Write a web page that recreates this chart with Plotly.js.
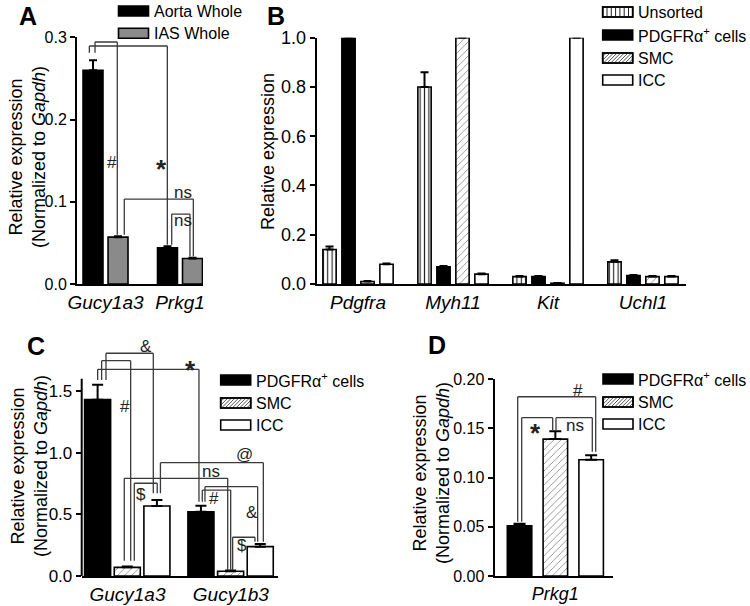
<!DOCTYPE html>
<html><head><meta charset="utf-8">
<script src="https://cdn.plot.ly/plotly-3.0.1.min.js"></script>
<style>html,body{margin:0;padding:0;background:#fff}#chart{width:750px;height:606px}</style>
</head><body><div id="chart"></div>
<script>
// ---------------- DATA ----------------
// Panel A
const catsA = ['Gucy1a3', 'Prkg1'];
const aortaA = [0.26, 0.044];
const aortaErrA = [0.012, 0.002];
const iasA = [0.057, 0.031];
const iasErrA = [0.001, 0.001];
const ticksA = [0, 0.1, 0.2, 0.3];

// Panel B
const catsB = ['Pdgfra', 'Myh11', 'Kit', 'Uchl1'];
const unsortedB = [0.14, 0.80, 0.03, 0.09];
const unsortedErrB = [0.012, 0.06, 0.002, 0.006];
const pdgfrB = [1.0, 0.07, 0.03, 0.034];
const pdgfrErrB = [0, 0.003, 0.002, 0.003];
const smcB = [0.01, 1.0, 0.003, 0.03];
const smcErrB = [0.002, 0, 0.001, 0.002];
const iccB = [0.08, 0.04, 1.0, 0.03];
const iccErrB = [0.003, 0.003, 0, 0.002];
const ticksB = [0, 0.2, 0.4, 0.6, 0.8, 1.0];

// Panel C
const catsC = ['Gucy1a3', 'Gucy1b3'];
const pdgfrC = [1.43, 0.52];
const pdgfrErrC = [0.12, 0.05];
const smcC = [0.07, 0.038];
const smcErrC = [0.008, 0.006];
const iccC = [0.567, 0.238];
const iccErrC = [0.049, 0.021];
const ticksC = [0, 0.5, 1.0, 1.5];

// Panel D
const catsD = ['Prkg1'];
const pdgfrD = [0.051];
const pdgfrErrD = [0.002];
const smcD = [0.139];
const smcErrD = [0.008];
const iccD = [0.118];
const iccErrD = [0.0045];
const ticksD = [0, 0.05, 0.10, 0.15, 0.20];

// Significance labels
const sigA = ['#', '*', 'ns', 'ns'];
const sigC = ['*', '#', '&', '$', 'ns', '@', '#', '&', '$'];
const sigD = ['#', '*', 'ns'];

// Legend labels
const legendA = ['Aorta Whole', 'IAS Whole'];
const legendB = ['Unsorted', 'PDGFR\u03b1<sup>+</sup> cells', 'SMC', 'ICC'];
const legendCD = ['PDGFR\u03b1<sup>+</sup> cells', 'SMC', 'ICC'];

// ---------------- STYLE / LAYOUT HELPERS ----------------
const W = 750, H = 606;
const FONT = 'Arial, "Liberation Sans", Helvetica, sans-serif';
const px = p => p / W;
const py = p => 1 - p / H;

const STY = {
  black: {color: '#000000'},
  gray: {color: '#8a8a8a'},
  white: {color: '#ffffff'},
  vlines: {color: '#ffffff', pattern: {shape: '|', fgcolor: '#222', bgcolor: '#fff', size: 4.4, solidity: 0.26}},
  diag: {color: '#ffffff', pattern: {shape: '/', fgcolor: '#555', bgcolor: '#fff', size: 5, solidity: 0.12}}
};

function bar(cats, vals, errs, sty, xa, ya, offset, width, capw, name) {
  const marker = {color: sty.color, line: {color: '#000', width: 1.6}};
  if (sty.pattern) marker.pattern = sty.pattern;
  return {
    type: 'bar', name: name, x: cats, y: vals, xaxis: xa, yaxis: ya,
    offset: offset, width: width, marker: marker, showlegend: false,
    error_y: {type: 'data', symmetric: false, array: errs, arrayminus: errs.map(() => 0),
              color: '#000', thickness: 2, width: capw},
    hoverinfo: 'skip'
  };
}

const traces = [
  bar(catsA, aortaA, aortaErrA, STY.black, 'x', 'y', -0.302, 0.268, 4, legendA[0]),
  bar(catsA, iasA, iasErrA, STY.gray, 'x', 'y', 0.034, 0.268, 4, legendA[1]),

  bar(catsB, unsortedB, unsortedErrB, STY.vlines, 'x2', 'y2', -0.37, 0.14, 4, 'Unsorted'),
  bar(catsB, pdgfrB, pdgfrErrB, STY.black, 'x2', 'y2', -0.17, 0.14, 4, 'PDGFRa'),
  bar(catsB, smcB, smcErrB, STY.diag, 'x2', 'y2', 0.03, 0.14, 4, 'SMC'),
  bar(catsB, iccB, iccErrB, STY.white, 'x2', 'y2', 0.23, 0.14, 4, 'ICC'),

  bar(catsC, pdgfrC, pdgfrErrC, STY.black, 'x3', 'y3', -0.415, 0.252, 5.5, 'PDGFRa'),
  bar(catsC, smcC, smcErrC, STY.diag, 'x3', 'y3', -0.128, 0.252, 5.5, 'SMC'),
  bar(catsC, iccC, iccErrC, STY.white, 'x3', 'y3', 0.159, 0.252, 5.5, 'ICC'),

  bar(catsD, pdgfrD, pdgfrErrD, STY.black, 'x4', 'y4', -0.48, 0.245, 6, 'PDGFRa'),
  bar(catsD, smcD, smcErrD, STY.diag, 'x4', 'y4', -0.122, 0.245, 6, 'SMC'),
  bar(catsD, iccD, iccErrD, STY.white, 'x4', 'y4', 0.236, 0.245, 6, 'ICC')
];

function xax(domain, range, anchor, cats, fs) {
  return {
    type: 'category', domain: domain, range: range, anchor: anchor,
    categoryorder: 'array', categoryarray: cats,
    showline: true, linewidth: 2, linecolor: '#000', ticks: '',
    showgrid: false, zeroline: false, fixedrange: true,
    tickfont: {family: FONT, size: fs, color: '#000', style: 'italic'}
  };
}
function yax(domain, range, anchor, tv, fmt, fs, showline) {
  return {
    domain: domain, range: range, anchor: anchor,
    tickmode: 'array', tickvals: tv, ticktext: tv.map(v => v.toFixed(fmt)),
    ticks: 'outside', ticklen: 5, tickwidth: 2, tickcolor: '#000',
    showline: showline, linewidth: 2, linecolor: '#000',
    showgrid: false, zeroline: false, fixedrange: true,
    tickfont: {family: FONT, size: fs, color: '#000'}
  };
}

const layout = {
  width: W, height: H, margin: {l: 0, r: 0, t: 0, b: 0},
  paper_bgcolor: '#fff', plot_bgcolor: 'rgba(0,0,0,0)',
  font: {family: FONT, color: '#000'},
  showlegend: false, barmode: 'group',
  xaxis: xax([px(77), px(203)], [-0.383, 1.309], 'y', catsA, 19),
  yaxis: yax([py(284), py(37.3)], [0, 0.3], 'x', ticksA, 1, 16, true),
  xaxis2: xax([px(316.7), px(686)], [-0.435, 3.453], 'y2', catsB, 19),
  yaxis2: yax([py(284), py(37.7)], [0, 1.0], 'x2', ticksB, 1, 18, true),
  xaxis3: xax([px(81.7), px(277.5)], [-0.443, 1.452], 'y3', catsC, 19),
  yaxis3: yax([py(576), py(335.5)], [0, 1.95], 'x3', ticksC, 1, 17, false),
  xaxis4: xax([px(494.5), px(613)], [-0.608, 0.577], 'y4', catsD, 18),
  yaxis4: yax([py(576), py(379)], [0, 0.2], 'x4', ticksD, 2, 16, true),
  shapes: [],
  annotations: []
};

// y axis line of panel C stops at 1.6
layout.shapes.push({type: 'line', xref: 'x3 domain', yref: 'y3', x0: 0, x1: 0, y0: 0, y1: 1.6,
                    line: {color: '#000', width: 2}});

// ---------------- SIGNIFICANCE BRACKETS ----------------
const BR_COLOR = '#3a3a3a';
function bracket(xa, ya, b) {
  const base = {type: 'line', xref: xa, yref: ya, line: {color: BR_COLOR, width: 1.3}, layer: 'above'};
  layout.shapes.push(Object.assign({}, base, {x0: b.x0, x1: b.x0, y0: b.y0, y1: b.yt}));
  layout.shapes.push(Object.assign({}, base, {x0: b.x0, x1: b.x1, y0: b.yt, y1: b.yt}));
  layout.shapes.push(Object.assign({}, base, {x0: b.x1, x1: b.x1, y0: b.yt, y1: b.y1}));
}
function sigLabel(xa, ya, x, y, text) {
  const star = text === '*';
  layout.annotations.push({
    xref: xa, yref: ya, x: x, y: y, text: text, showarrow: false,
    xanchor: 'center', yanchor: 'middle', yshift: star ? -6 : 0,
    font: {family: FONT, size: star ? 26 : 17, color: '#222', weight: star ? 'bold' : 'normal'}
  });
}

// Panel A brackets (category units, value units)
const brA = [
  {x0: -0.141, x1: 0.158, yt: 0.2943, y0: 0.2813, y1: 0.0598, lx: 0.087, ly: 0.1476},
  {x0: -0.217, x1: 0.830, yt: 0.2894, y0: 0.2813, y1: 0.0476, lx: 0.745, ly: 0.1476},
  {x0: 0.252, x1: 1.179, yt: 0.1033, y0: 0.0598, y1: 0.0333, lx: 1.040, ly: 0.111},
  {x0: 0.889, x1: 1.134, yt: 0.085, y0: 0.0476, y1: 0.0333, lx: 1.040, ly: 0.0768}
];
brA.forEach((b, i) => { bracket('x', 'y', b); sigLabel('x', 'y', b.lx, b.ly, sigA[i]); });

const brC = [
  {x0: -0.2885, x1: 0.692, yt: 1.676, y0: 1.589, y1: 0.602, lx: 0.613, ly: 1.718},
  {x0: -0.250, x1: 0.031, yt: 1.746, y0: 1.589, y1: 0.124, lx: -0.024, ly: 1.373},
  {x0: -0.208, x1: 0.250, yt: 1.806, y0: 1.589, y1: 0.671, lx: 0.184, ly: 1.859},
  {x0: 0.066, x1: 0.288, yt: 0.752, y0: 0.124, y1: 0.671, lx: 0.128, ly: 0.657},
  {x0: -0.031, x1: 0.970, yt: 0.792, y0: 0.124, y1: 0.0487, lx: 0.808, ly: 0.851},
  {x0: 0.319, x1: 1.315, yt: 0.919, y0: 0.671, y1: 0.278, lx: 1.128, ly: 0.989},
  {x0: 0.724, x1: 0.999, yt: 0.697, y0: 0.602, y1: 0.0487, lx: 0.840, ly: 0.630},
  {x0: 0.750, x1: 1.260, yt: 0.724, y0: 0.602, y1: 0.278, lx: 1.202, ly: 0.513},
  {x0: 1.018, x1: 1.234, yt: 0.314, y0: 0.0487, y1: 0.278, lx: 1.105, ly: 0.246}
];
brC.forEach((b, i) => { bracket('x3', 'y3', b); sigLabel('x3', 'y3', b.lx, b.ly, sigC[i]); });

const brD = [
  {x0: -0.376, x1: 0.404, yt: 0.182, y0: 0.0551, y1: 0.1262, lx: 0.23, ly: 0.188},
  {x0: -0.336, x1: -0.026, yt: 0.1607, y0: 0.0551, y1: 0.148, lx: -0.196, ly: 0.151},
  {x0: 0.007, x1: 0.370, yt: 0.1607, y0: 0.148, y1: 0.1262, lx: 0.197, ly: 0.153}
];
brD.forEach((b, i) => { bracket('x4', 'y4', b); sigLabel('x4', 'y4', b.lx, b.ly, sigD[i]); });

// ---------------- LEGENDS (drawn swatches) ----------------
function swatch(x0, yc, kind, label, fs) {
  const x1 = x0 + 30, yt = yc - 5, yb = yc + 5;
  const fill = kind === 'black' ? '#000' : (kind === 'gray' ? '#8a8a8a' : '#fff');
  layout.shapes.push({type: 'rect', xref: 'paper', yref: 'paper', x0: px(x0), x1: px(x1), y0: py(yb), y1: py(yt),
                      fillcolor: fill, line: {color: '#000', width: 1.6}});
  let path = '';
  if (kind === 'vlines') {
    for (let x = x0 + 4.3; x < x1 - 1; x += 4.3) {
      path += 'M' + px(x) + ',' + py(yt) + 'L' + px(x) + ',' + py(yb);
    }
  } else if (kind === 'diag') {
    const h = yb - yt;
    for (let xb = x0 - h; xb < x1; xb += 3.6) {
      const ta = Math.max(xb, x0), tb = Math.min(xb + h, x1);
      if (tb - ta > 0.3) {
        path += 'M' + px(ta) + ',' + py(yb - (ta - xb)) + 'L' + px(tb) + ',' + py(yb - (tb - xb));
      }
    }
  }
  if (path) {
    layout.shapes.push({type: 'path', xref: 'paper', yref: 'paper', path: path,
                        line: {color: kind === 'diag' ? '#555' : '#222', width: 1}});
    layout.shapes.push({type: 'rect', xref: 'paper', yref: 'paper', x0: px(x0), x1: px(x1), y0: py(yb), y1: py(yt),
                        fillcolor: 'rgba(0,0,0,0)', line: {color: '#000', width: 1.6}});
  }
  layout.annotations.push({xref: 'paper', yref: 'paper', x: px(x1 + 3), y: py(yc), text: label,
                           showarrow: false, xanchor: 'left', yanchor: 'middle',
                           font: {family: FONT, size: fs, color: '#000'}});
}
const kindsA = ['black', 'gray'];
const kindsB = ['vlines', 'black', 'diag', 'white'];
const kindsCD = ['black', 'diag', 'white'];
[11, 33.3].forEach((y, i) => swatch(118.5, y, kindsA[i], legendA[i], 16));
[12, 35, 58, 80].forEach((y, i) => swatch(602.7, y, kindsB[i], legendB[i], 16));
[380, 403, 425].forEach((y, i) => swatch(220.7, y, kindsCD[i], legendCD[i], 16));
[379, 402, 424].forEach((y, i) => swatch(603, y, kindsCD[i], legendCD[i], 16));

// ---------------- TITLES / PANEL LETTERS ----------------
const ytitle2 = 'Relative expression<br>(Normalized to <i>Gapdh</i>)';
function ytitle(xc, yc, text) {
  layout.annotations.push({xref: 'paper', yref: 'paper', x: px(xc), y: py(yc), text: text,
                           textangle: -90, showarrow: false, xanchor: 'center', yanchor: 'middle',
                           font: {family: FONT, size: 18, color: '#000'}});
}
ytitle(27, 157, ytitle2);
ytitle(268, 152, 'Relative expression');
ytitle(29, 466, ytitle2);
ytitle(431, 473, ytitle2);

const letters = [['A', 28, 0], ['B', 276, 0], ['C', 36, 330], ['D', 437, 329]];
letters.forEach(l => layout.annotations.push({
  xref: 'paper', yref: 'paper', x: px(l[1]), y: py(l[2]), text: l[0], showarrow: false,
  xanchor: 'center', yanchor: 'top', font: {family: FONT, size: 25, color: '#000', weight: 'bold'}
}));

Plotly.newPlot('chart', traces, layout, {staticPlot: true, displayModeBar: false});
</script>
</body></html>
